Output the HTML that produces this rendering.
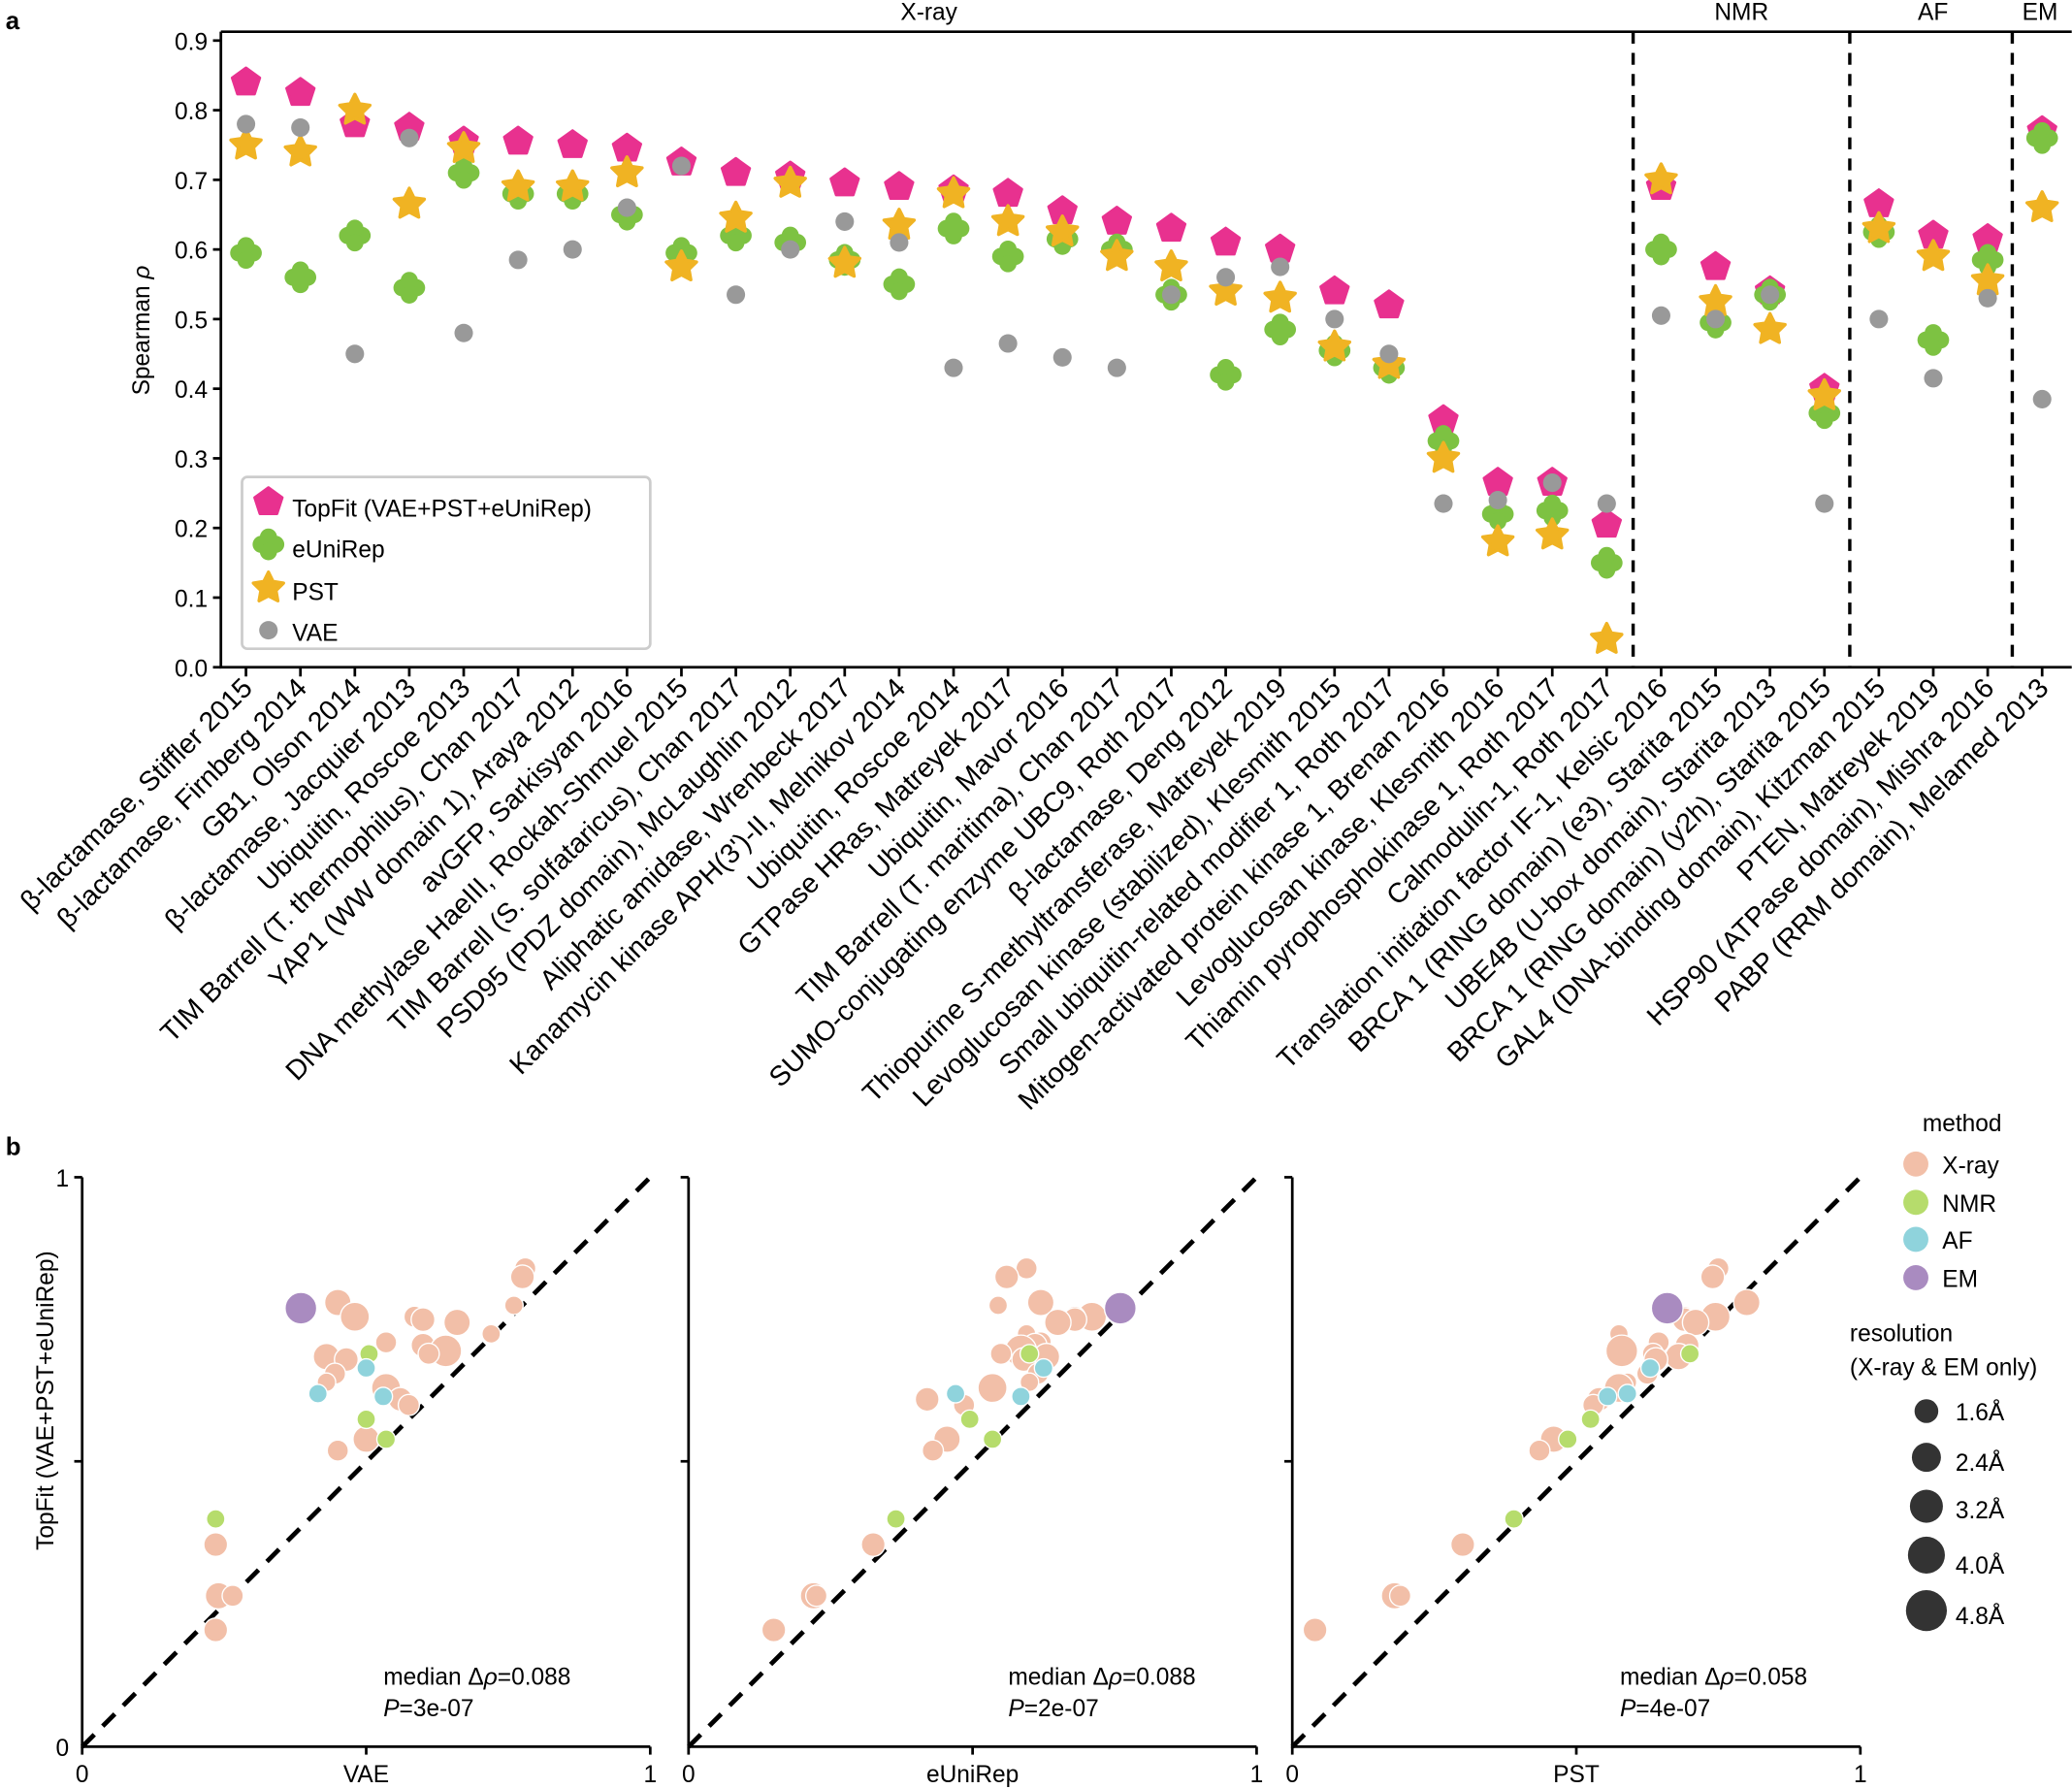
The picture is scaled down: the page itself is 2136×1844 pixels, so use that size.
<!DOCTYPE html>
<html><head><meta charset="utf-8"><style>
html,body{margin:0;padding:0;background:#fff;}
svg{display:block;font-family:"Liberation Sans",Arial,sans-serif;}
</style></head><body>
<svg id="s" width="2136" height="1844" viewBox="0 0 1568 1354" xmlns="http://www.w3.org/2000/svg">
<rect width="1568" height="1354" fill="#fff"/>
<text x="4" y="22" font-size="19" font-weight="bold">a</text>
<text x="4" y="874" font-size="19" font-weight="bold">b</text>
<text x="703" y="15" font-size="18" text-anchor="middle">X-ray</text>
<text x="1318" y="15" font-size="18" text-anchor="middle">NMR</text>
<text x="1463" y="15" font-size="18" text-anchor="middle">AF</text>
<text x="1544" y="15" font-size="18" text-anchor="middle">EM</text>
<rect x="183" y="361" width="309" height="130" rx="4" fill="#fff" stroke="#ccc" stroke-width="2"/>
<g id="g"></g>
<text transform="translate(113,250) rotate(-90)" font-size="18" text-anchor="middle">Spearman <tspan font-style="italic">ρ</tspan></text>
<text transform="translate(40,1060) rotate(-90)" font-size="18" text-anchor="middle">TopFit (VAE+PST+eUniRep)</text>
<text x="221" y="391" font-size="18">TopFit (VAE+PST+eUniRep)</text>
<text x="221" y="422" font-size="18">eUniRep</text>
<text x="221" y="454" font-size="18">PST</text>
<text x="221" y="485" font-size="18">VAE</text>
<text x="1485" y="856" font-size="18" text-anchor="middle">method</text>
<text x="1470" y="888" font-size="18">X-ray</text>
<text x="1470" y="917" font-size="18">NMR</text>
<text x="1470" y="945" font-size="18">AF</text>
<text x="1470" y="974" font-size="18">EM</text>
<text x="1400" y="1015" font-size="18">resolution</text>
<text x="1400" y="1041" font-size="18">(X-ray &amp; EM only)</text>
<text x="1480" y="1075" font-size="18">1.6Å</text>
<text x="1480" y="1113" font-size="18">2.4Å</text>
<text x="1480" y="1149" font-size="18">3.2Å</text>
<text x="1480" y="1191" font-size="18">4.0Å</text>
<text x="1480" y="1229" font-size="18">4.8Å</text>
<text x="290" y="1275" font-size="18">median  Δ<tspan font-style="italic">ρ</tspan>=0.088</text>
<text x="290" y="1299" font-size="18"><tspan font-style="italic">P</tspan>=3e-07</text>
<text x="763" y="1275" font-size="18">median  Δ<tspan font-style="italic">ρ</tspan>=0.088</text>
<text x="763" y="1299" font-size="18"><tspan font-style="italic">P</tspan>=2e-07</text>
<text x="1226" y="1275" font-size="18">median  Δ<tspan font-style="italic">ρ</tspan>=0.058</text>
<text x="1226" y="1299" font-size="18"><tspan font-style="italic">P</tspan>=4e-07</text>
<text x="277" y="1349" font-size="18" text-anchor="middle">VAE</text>
<text x="736" y="1349" font-size="18" text-anchor="middle">eUniRep</text>
<text x="1193" y="1349" font-size="18" text-anchor="middle">PST</text>
</svg>
<script>
var NS="http://www.w3.org/2000/svg",G=document.getElementById("g");
function el(t,a,txt){var e=document.createElementNS(NS,t);for(var k in a)e.setAttribute(k,a[k]);if(txt!=null)e.textContent=txt;G.appendChild(e);return e;}
var labels=["β-lactamase, Stiffler 2015","β-lactamase, Firnberg 2014","GB1, Olson 2014","β-lactamase, Jacquier 2013","Ubiquitin, Roscoe 2013","TIM Barrell (T. thermophilus), Chan 2017","YAP1 (WW domain 1), Araya 2012","avGFP, Sarkisyan 2016","DNA methylase HaeIII, Rockah-Shmuel 2015","TIM Barrell (S. solfataricus), Chan 2017","PSD95 (PDZ domain), McLaughlin 2012","Aliphatic amidase, Wrenbeck 2017","Kanamycin kinase APH(3')-II, Melnikov 2014","Ubiquitin, Roscoe 2014","GTPase HRas, Matreyek 2017","Ubiquitin, Mavor 2016","TIM Barrell (T. maritima), Chan 2017","SUMO-conjugating enzyme UBC9, Roth 2017","β-lactamase, Deng 2012","Thiopurine S-methyltransferase, Matreyek 2019","Levoglucosan kinase (stabilized), Klesmith 2015","Small ubiquitin-related modifier 1, Roth 2017","Mitogen-activated protein kinase 1, Brenan 2016","Levoglucosan kinase, Klesmith 2016","Thiamin pyrophosphokinase 1, Roth 2017","Calmodulin-1, Roth 2017","Translation initiation factor IF-1, Kelsic 2016","BRCA 1 (RING domain) (e3), Starita 2015","UBE4B (U-box domain), Starita 2013","BRCA 1 (RING domain) (y2h), Starita 2015","GAL4 (DNA-binding domain), Kitzman 2015","PTEN, Matreyek 2019","HSP90 (ATPase domain), Mishra 2016","PABP (RRM domain), Melamed 2013"];
var D=[[.84,.595,.75,.78],[.825,.56,.74,.775],[.78,.62,.80,.45],[.775,.545,.665,.76],[.755,.71,.745,.48],[.755,.68,.69,.585],[.75,.68,.69,.60],[.745,.65,.71,.66],[.725,.595,.575,.72],[.71,.62,.645,.535],[.705,.61,.695,.60],[.695,.585,.58,.64],[.69,.55,.635,.61],[.685,.63,.68,.43],[.68,.59,.64,.465],[.655,.615,.625,.445],[.64,.60,.59,.43],[.63,.535,.575,.535],[.61,.42,.54,.56],[.60,.485,.53,.575],[.54,.455,.46,.50],[.52,.43,.435,.45],[.355,.325,.30,.235],[.265,.22,.18,.24],[.265,.225,.19,.265],[.205,.15,.04,.235],[.69,.60,.70,.505],[.575,.495,.525,.50],[.54,.535,.485,.535],[.40,.365,.39,.235],[.665,.625,.63,.50],[.62,.47,.59,.415],[.615,.585,.555,.53],[.77,.76,.66,.385]];
function X(i){return 186+i*41.2;}function Y(v){return 505-527*v;}
el("path",{d:"M167,24V505H1568M167,24H1568",fill:"none",stroke:"#000","stroke-width":2});
for(var k=0;k<=9;k++){var y=Y(k/10);el("line",{x1:161,x2:167,y1:y,y2:y,stroke:"#000","stroke-width":2});el("text",{x:157,y:y+7,"font-size":18,"text-anchor":"end"},(k/10).toFixed(1));}
[1236,1400,1523].forEach(function(x){el("line",{x1:x,x2:x,y1:24,y2:505,stroke:"#000","stroke-width":2.5,"stroke-dasharray":"9,7"});});
function pent(x,y,r,c){var p=[];for(var j=0;j<5;j++){var a=-Math.PI/2+j*2*Math.PI/5;p.push((x+r*Math.cos(a)).toFixed(1)+","+(y+r*Math.sin(a)).toFixed(1));}el("polygon",{points:p.join(" "),fill:c,stroke:c,"stroke-width":2,"stroke-linejoin":"round"});}
function star(x,y,r,c){var p=[];for(var j=0;j<10;j++){var a=-Math.PI/2+j*Math.PI/5,rr=j%2?r*0.5:r;p.push((x+rr*Math.cos(a)).toFixed(1)+","+(y+rr*Math.sin(a)).toFixed(1));}el("polygon",{points:p.join(" "),fill:c,stroke:c,"stroke-width":2.5,"stroke-linejoin":"round"});}
function clover(x,y,c){[[-5.5,0],[5.5,0],[0,-5.5],[0,5.5]].forEach(function(o){el("circle",{cx:x+o[0],cy:y+o[1],r:6.5,fill:c});});}
var PK="#e8318f",GR="#7dc242",YE="#f0b323",GY="#999";
for(var i=0;i<34;i++){var x=X(i),d=D[i];
 el("line",{x1:x,x2:x,y1:505,y2:512,stroke:"#000","stroke-width":2});
 el("text",{x:0,y:0,"font-size":21,"text-anchor":"end",transform:"translate("+(x+6)+",522) rotate(-45)"},labels[i]);
 pent(x,Y(d[0]),11,PK);clover(x,Y(d[1]),GR);star(x,Y(d[2]),12,YE);el("circle",{cx:x,cy:Y(d[3]),r:7,fill:GY});}
pent(203,380,11,PK);clover(203,412,GR);star(203,445,12,YE);el("circle",{cx:203,cy:477,r:7,fill:GY});
var CX="#f2bfa8",CN="#b6dc6c",CA="#8fd3dc",CE="#a98bc0";
var sz=[8,9,10,7,11,8,9,10,7,8,9,12,8,10,9,8,7,11,9,8,10,8,9,10,8,9];
[[62,3,1],[521,1,0],[978,2,0]].forEach(function(P){var x0=P[0],c=P[1];
 el("path",{d:"M"+x0+",891V1322H"+(x0+430),fill:"none",stroke:"#000","stroke-width":2});
 el("line",{x1:x0,y1:1322,x2:x0+430,y2:891,stroke:"#000","stroke-width":3.5,"stroke-dasharray":"13,9"});
 el("line",{x1:x0-6,x2:x0,y1:1106,y2:1106,stroke:"#000","stroke-width":2});
 el("line",{x1:x0+215,x2:x0+215,y1:1322,y2:1328,stroke:"#000","stroke-width":2});
 el("line",{x1:x0-6,x2:x0,y1:891,y2:891,stroke:"#000","stroke-width":2});
 el("line",{x1:x0+430,x2:x0+430,y1:1322,y2:1328,stroke:"#000","stroke-width":2});
 el("line",{x1:x0,x2:x0,y1:1322,y2:1328,stroke:"#000","stroke-width":2});
 el("text",{x:x0,y:1349,"font-size":18,"text-anchor":"middle"},"0");
 el("text",{x:x0+430,y:1349,"font-size":18,"text-anchor":"middle"},"1");
 if(P[2]){el("text",{x:x0-10,y:898,"font-size":18,"text-anchor":"end"},"1");
 el("text",{x:x0-10,y:1329,"font-size":18,"text-anchor":"end"},"0");}
 for(var i=0;i<34;i++){var col,r;if(i<26){col=CX;r=sz[i];}else if(i<30){col=CN;r=7;}else if(i<33){col=CA;r=7;}else{col=CE;r=12;}
  el("circle",{cx:x0+D[i][c]*430,cy:1322-D[i][0]*431,r:r,fill:col,stroke:"#fff","stroke-width":1});}
});
[[881,CX],[910,CN],[938,CA],[967,CE]].forEach(function(a){el("circle",{cx:1450,cy:a[0],r:9.5,fill:a[1]});});
[[1068,9],[1103,11],[1140,12.5],[1177,14],[1219,15.5]].forEach(function(a){el("circle",{cx:1458,cy:a[0],r:a[1],fill:"#333"});});
</script>
</body></html>
